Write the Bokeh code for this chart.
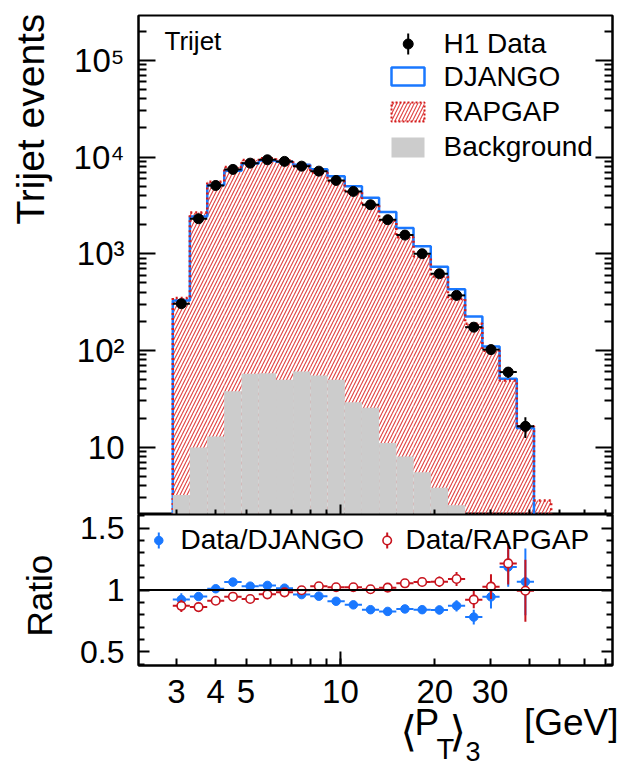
import math
from bokeh.plotting import figure
from bokeh.layouts import column, row
from bokeh.models import (FixedTicker, LogAxis, LinearAxis, Range1d, Span, Label,
                          CustomJSTickFormatter)
from bokeh.embed import file_html
from bokeh.resources import INLINE

# ---------------- data ----------------
bin_edges = [2.92, 3.31, 3.76, 4.26, 4.84, 5.49, 6.23, 7.06, 8.01, 9.09, 10.32, 11.71,
             13.28, 15.07, 17.10, 19.41, 22.02, 24.98, 28.35, 32.17, 36.50, 41.41, 46.98]
h1_data = [304, 2300, 5080, 7450, 8650, 9370, 9020, 8050, 7150, 5730, 4410, 3210,
           2250, 1560, 1000, 621, 371, 174, 102, 59.7, 16.4]
h1_data_err = [17, 48, 71, 86, 93, 97, 95, 90, 85, 76, 66, 57, 47, 39, 32, 25, 19, 13,
               10, 7.7, 4.0]
django = [329, 2430, 5150, 7200, 8600, 9200, 8950, 8340, 7480, 6330, 5000, 3790,
          2700, 1850, 1195, 733, 430, 224, 110, 51, 15.8]
rapgap = [349, 2670, 5560, 7880, 9330, 9710, 9200, 8070, 6940, 5610, 4320, 3190,
          2210, 1480, 940, 582, 341, 189, 99, 49, 16.4, 2.8]
background = [3.2, 9.9, 12.9, 37.9, 57.4, 58.2, 49.7, 60.7, 55.1, 49.7, 29.2, 25.5,
              11.0, 8.0, 5.5, 3.8, 2.5, 0, 0, 0, 0]
ratio_django = [0.923, 0.947, 1.010, 1.064, 1.031, 1.037, 1.015, 0.963, 0.950, 0.909,
                0.880, 0.841, 0.827, 0.847, 0.841, 0.839, 0.872, 0.781, 0.945, 1.186, 1.066]
ratio_django_err = [0.05, 0.02, 0.014, 0.012, 0.011, 0.011, 0.011, 0.011, 0.012, 0.013,
                    0.014, 0.015, 0.018, 0.022, 0.027, 0.034, 0.045, 0.06, 0.095, 0.16, 0.27]
ratio_rapgap = [0.872, 0.862, 0.913, 0.946, 0.927, 0.965, 0.981, 0.998, 1.030, 1.022,
                1.022, 1.006, 1.019, 1.054, 1.065, 1.067, 1.089, 0.922, 1.027, 1.215, 0.994]
ratio_rapgap_err = [0.05, 0.018, 0.013, 0.011, 0.01, 0.01, 0.01, 0.011, 0.012, 0.014,
                    0.016, 0.018, 0.022, 0.028, 0.034, 0.043, 0.057, 0.07, 0.10, 0.17, 0.25]

x_major_top = [10]
x_minor_top = [3, 4, 5, 6, 7, 8, 9, 20, 30, 40, 50, 60, 70]
x_labelled = [3, 4, 5, 10, 20, 30]
x_minor_bottom = [6, 7, 8, 9, 40, 50, 60, 70]
y_major = [10, 100, 1000, 10000, 100000]
y_minor = [m * 10 ** k for k in range(0, 6) for m in range(2, 10)]
r_major = [0.5, 1, 1.5]
r_minor = [0.4, 0.6, 0.7, 0.8, 0.9, 1.1, 1.2, 1.3, 1.4, 1.6]

# ---------------- layout constants (page pixels) ----------------
W = 620
STRIP = 64                 # left strip that holds the rotated axis titles
LEFT, RIGHT = 138, 612     # frame edges
TOP1, SPLIT, BOT2 = 15, 514, 665
P2_END = 672               # bottom of the ratio figure
H = 767
XLO, XHI = 2.27, 73.7
YLO, YHI = 2.01, 2.91e5
RLO, RHI = 0.39, 1.61

BLUE = "#1a78ff"
RED = "#d41c1c"
RED_R = "#c8141e"
HATCH = "#e04040"
GRAY = "#cccccc"
FONT = "Liberation Sans"
BASE_SHIFT = 0.385         # text anchor sits this fraction of the size above the baseline


def x_at(px):
    a, b = math.log10(XLO), math.log10(XHI)
    return 10 ** (a + (px - LEFT) / (RIGHT - LEFT) * (b - a))


def y_at(py):
    a, b = math.log10(YLO), math.log10(YHI)
    return 10 ** (a + (SPLIT - py) / (SPLIT - TOP1) * (b - a))


def r_at(py):
    return RLO + (BOT2 - py) / (BOT2 - SPLIT) * (RHI - RLO)


def ident(v):
    return v


def style_axis(ax, major_in, minor_in, labels=True, fs="33px", standoff=14):
    ax.major_tick_in = major_in
    ax.major_tick_out = 0
    ax.minor_tick_in = minor_in
    ax.minor_tick_out = 0
    ax.axis_line_width = 2
    ax.axis_line_color = "black"
    ax.major_tick_line_width = 2
    ax.minor_tick_line_width = 2
    ax.major_label_text_font = FONT
    ax.major_label_text_color = "black"
    ax.major_label_text_font_size = fs
    ax.major_label_standoff = standoff
    if not labels:
        ax.formatter = CustomJSTickFormatter(code="return '';")
        ax.major_label_text_font_size = "0px"
        ax.major_label_standoff = 0


def blank(width, height, xr, yr, log_x=False):
    f = figure(width=width, height=height, x_range=xr, y_range=yr,
               x_axis_type="log" if log_x else "linear",
               x_axis_location=None, y_axis_location=None,
               output_backend="svg", toolbar_location=None, min_border=0,
               min_border_left=0, min_border_right=0, min_border_top=0,
               min_border_bottom=0)
    f.xgrid.visible = False
    f.ygrid.visible = False
    f.outline_line_color = None
    f.background_fill_color = "white"
    f.border_fill_color = "white"
    return f


def txt(fig, px, py, text, fs, fx=ident, fy=ident, font=FONT, align="left", rotated=False):
    """Place text whose baseline is at py (or at px when rotated)."""
    shift = BASE_SHIFT * fs
    if rotated:
        px = px - shift
    else:
        py = py - shift
    fig.add_layout(Label(x=fx(px), y=fy(py), text=text, text_font=font,
                         text_font_size=f"{fs}px", text_color="black",
                         text_baseline="alphabetic", text_align=align,
                         angle=math.pi / 2 if rotated else 0.0))


centers = [math.sqrt(bin_edges[i] * bin_edges[i + 1]) for i in range(len(h1_data))]
lefts = bin_edges[:-1]
rights = bin_edges[1:]


def outline(vals, floor):
    xs, ys = [bin_edges[0]], [floor]
    for i, v in enumerate(vals):
        xs += [bin_edges[i], bin_edges[i + 1]]
        ys += [v, v]
    xs.append(bin_edges[len(vals)])
    ys.append(floor)
    return xs, ys


# ---------------- top panel ----------------
p1 = figure(width=W - STRIP, height=SPLIT, x_axis_type="log", y_axis_type="log",
            x_range=Range1d(XLO, XHI), y_range=Range1d(YLO, YHI),
            output_backend="svg", toolbar_location=None,
            min_border_left=LEFT - STRIP, min_border_right=W - RIGHT,
            min_border_top=TOP1, min_border_bottom=0)
p1.xgrid.visible = False
p1.ygrid.visible = False
p1.outline_line_color = "black"
p1.outline_line_width = 2
p1.background_fill_color = "white"
p1.border_fill_color = "white"

p1.xaxis.ticker = FixedTicker(ticks=x_major_top, minor_ticks=x_minor_top)
style_axis(p1.xaxis[0], 10, 5, labels=False)
p1.yaxis.ticker = FixedTicker(ticks=y_major, minor_ticks=y_minor)
p1.yaxis.formatter = CustomJSTickFormatter(code="""
const e = Math.round(Math.log10(tick));
const s = {2: '\u00b2', 3: '\u00b3', 4: '\u2074', 5: '\u2075'};
return e <= 1 ? '10' : '10' + s[e];
""")
style_axis(p1.yaxis[0], 17, 8)
ry1 = LogAxis(ticker=FixedTicker(ticks=y_major, minor_ticks=y_minor))
style_axis(ry1, 17, 8, labels=False)
p1.add_layout(ry1, "right")

floor = YLO * 0.3
p1.quad(left=lefts + [bin_edges[-2]], right=rights, top=rapgap,
        bottom=[floor] * len(rapgap),
        fill_alpha=0, line_color=None, hatch_pattern="/", hatch_color=HATCH,
        hatch_weight=1.1, hatch_scale=7)
bx, by = outline(django, floor)
p1.line(bx, by, line_color=BLUE, line_width=2.5)
rx, ry = outline(rapgap, floor)
p1.line(rx, ry, line_color=RED, line_width=2.5, line_dash="2 3")
bg_idx = [i for i, v in enumerate(background) if v > 0]
p1.quad(left=[lefts[i] for i in bg_idx], right=[rights[i] for i in bg_idx],
        top=[background[i] for i in bg_idx], bottom=[floor] * len(bg_idx),
        fill_color=GRAY, line_color=None)
p1.segment(x0=lefts, x1=rights, y0=h1_data, y1=h1_data, line_color="black", line_width=2)
p1.segment(x0=centers, x1=centers,
           y0=[d - e for d, e in zip(h1_data, h1_data_err)],
           y1=[d + e for d, e in zip(h1_data, h1_data_err)],
           line_color="black", line_width=2)
p1.scatter(centers, h1_data, size=10, marker="circle", fill_color="black", line_color="black")

# legend (top)
p1.segment(x0=[x_at(407.7)], x1=[x_at(407.7)], y0=[y_at(54)], y1=[y_at(33)],
           line_color="black", line_width=2)
p1.scatter([x_at(407.7)], [y_at(43.5)], size=10, marker="circle", color="black")
p1.quad(left=[x_at(391)], right=[x_at(424)], top=[y_at(67)], bottom=[y_at(85)],
        fill_color="white", line_color=BLUE, line_width=2.5)
p1.quad(left=[x_at(391)], right=[x_at(424)], top=[y_at(102)], bottom=[y_at(121)],
        fill_alpha=0, hatch_pattern="/", hatch_color=HATCH, hatch_weight=1.1,
        hatch_scale=7, line_color=RED, line_width=2, line_dash="2 2")
p1.quad(left=[x_at(391)], right=[x_at(424)], top=[y_at(137)], bottom=[y_at(157)],
        fill_color=GRAY, line_color=None)
for t, base in [("H1 Data", 53.5), ("DJANGO", 87), ("RAPGAP", 122), ("Background", 157)]:
    txt(p1, 443, base, t, 28, fx=x_at, fy=y_at)
txt(p1, 164, 51, "Trijet", 26, fx=x_at, fy=y_at)

# ---------------- ratio panel ----------------
p2 = figure(width=W - STRIP, height=P2_END - SPLIT, x_axis_type="log",
            x_range=p1.x_range, y_range=Range1d(RLO, RHI),
            output_backend="svg", toolbar_location=None,
            min_border_left=LEFT - STRIP, min_border_right=W - RIGHT,
            min_border_top=0, min_border_bottom=P2_END - BOT2)
p2.xgrid.visible = False
p2.ygrid.visible = False
p2.outline_line_color = "black"
p2.outline_line_width = 2
p2.background_fill_color = "white"
p2.border_fill_color = "white"

p2.xaxis.ticker = FixedTicker(ticks=x_labelled, minor_ticks=x_minor_bottom)
style_axis(p2.xaxis[0], 7, 7, labels=False)
p2.yaxis.ticker = FixedTicker(ticks=r_major, minor_ticks=r_minor)
style_axis(p2.yaxis[0], 11, 6, fs="32px")
ry2 = LinearAxis(ticker=FixedTicker(ticks=r_major, minor_ticks=r_minor))
style_axis(ry2, 11, 6, labels=False)
p2.add_layout(ry2, "right")
# longer tick at the decade
p2.segment(x0=[10], x1=[10], y0=[RLO], y1=[r_at(BOT2 - 14)], line_color="black", line_width=2)

p2.add_layout(Span(location=1, dimension="width", line_color="black", line_width=2))

# Data/DJANGO
p2.segment(x0=lefts, x1=rights, y0=ratio_django, y1=ratio_django, line_color=BLUE, line_width=2)
p2.segment(x0=centers, x1=centers,
           y0=[r - e for r, e in zip(ratio_django, ratio_django_err)],
           y1=[r + e for r, e in zip(ratio_django, ratio_django_err)],
           line_color=BLUE, line_width=2)
p2.scatter(centers, ratio_django, size=8.5, marker="circle", fill_color=BLUE, line_color=BLUE)
# Data/RAPGAP
p2.segment(x0=lefts, x1=rights, y0=ratio_rapgap, y1=ratio_rapgap, line_color=RED_R, line_width=2)
p2.segment(x0=centers, x1=centers,
           y0=[r - e for r, e in zip(ratio_rapgap, ratio_rapgap_err)],
           y1=[r + e for r, e in zip(ratio_rapgap, ratio_rapgap_err)],
           line_color=RED_R, line_width=2)
p2.scatter(centers, ratio_rapgap, size=8.5, marker="circle", fill_color="white",
           line_color=RED_R, line_width=1.6)

# ratio legend
p2.segment(x0=[x_at(158.3)], x1=[x_at(158.3)], y0=[r_at(548)], y1=[r_at(532)],
           line_color=BLUE, line_width=2)
p2.scatter([x_at(158.3)], [r_at(540)], size=8.5, marker="circle", color=BLUE)
p2.segment(x0=[x_at(386.7)], x1=[x_at(386.7)], y0=[r_at(548)], y1=[r_at(532)],
           line_color=RED_R, line_width=2)
p2.scatter([x_at(386.7)], [r_at(540)], size=8.5, marker="circle", fill_color="white",
           line_color=RED_R, line_width=1.6)
for t, xp in [("Data/DJANGO", 180), ("Data/RAPGAP", 405)]:
    txt(p2, xp, 550, t, 28, fx=x_at, fy=r_at)

# ---------------- strips holding the axis titles (y data units = page pixels) ----------------
s1 = blank(STRIP, SPLIT, Range1d(0, STRIP), Range1d(SPLIT, 0))
txt(s1, 45, -2, "Trijet events", 39, align="right", rotated=True)

s2 = blank(STRIP, P2_END - SPLIT, Range1d(0, STRIP), Range1d(P2_END, SPLIT))
txt(s2, 52, 599, "Ratio", 35, align="center", rotated=True)

# bottom strip: x tick labels (on the same log scale) and the x-axis title
p3 = blank(W, H - P2_END, Range1d(x_at(0), x_at(W)), Range1d(H, P2_END), log_x=True)
for t in x_labelled:
    txt(p3, t, 704, str(t), 33, align="center")
title_parts = [
    ("\u27e8", 400, 747, 42, "DejaVu Sans"),
    ("P", 414, 736, 37, FONT),
    ("T", 436, 760, 29, FONT),
    ("\u27e9", 449, 747, 42, "DejaVu Sans"),
    ("3", 465, 761, 27, FONT),
]
for t, xp, yp, fs, fnt in title_parts:
    txt(p3, xp, yp, t, fs, fx=x_at, font=fnt)
txt(p3, 618, 736, "[GeV]", 37, fx=x_at, align="right")

layout = column(row(s1, p1, spacing=0), row(s2, p2, spacing=0), p3, spacing=0)
open("out.html", "w").write(file_html(layout, INLINE))
